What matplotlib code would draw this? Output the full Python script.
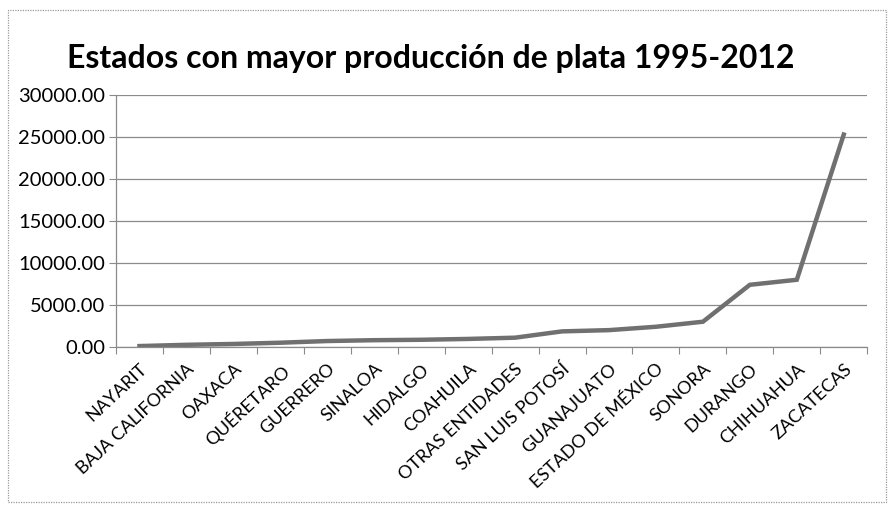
import numpy as np
import matplotlib
matplotlib.use("Agg")
from matplotlib import pyplot as plt
from matplotlib.patches import Rectangle

estados = ['NAYARIT', 'BAJA CALIFORNIA', 'OAXACA', 'QUÉRETARO', 'GUERRERO',
           'SINALOA', 'HIDALGO', 'COAHUILA', 'OTRAS ENTIDADES', 'SAN LUIS POTOSÍ',
           'GUANAJUATO', 'ESTADO DE MÉXICO', 'SONORA', 'DURANGO', 'CHIHUAHUA',
           'ZACATECAS']
produccion = [100, 250, 350, 500, 700, 800, 850, 950, 1100, 1850,
              2000, 2400, 3000, 7400, 8000, 25300]
yticks = [0, 5000, 10000, 15000, 20000, 25000, 30000]

plt.rcParams['font.family'] = ['Lato', 'DejaVu Sans']

fig = plt.figure(figsize=(8.89, 5.17), dpi=100)
ax = fig.add_axes([0.1305, 0.329, 0.845, 0.487])

x = np.arange(len(estados))
ax.plot(x, produccion, color='#707070', lw=3.2, solid_joinstyle='miter')

ax.set_xlim(-0.5, len(estados) - 0.5)
ax.set_ylim(0, 30000)
ax.set_yticks(yticks)
ax.set_yticklabels(['%.2f' % v for v in yticks], fontsize=14.5)
ax.grid(axis='y', color='#8a8a8a', lw=0.9)
ax.set_axisbelow(True)

# category ticks between labels, labels centred under points
ax.set_xticks(np.arange(len(estados) + 1) - 0.5)
ax.set_xticklabels([])
ax.set_xticks(x, minor=True)
ax.set_xticklabels(estados, minor=True, rotation=43, ha='right', va='top',
                   rotation_mode='anchor', fontsize=13)
ax.tick_params(axis='x', which='minor', length=0, pad=10)
ax.tick_params(axis='x', which='major', length=5, color='#8a8a8a')
ax.tick_params(axis='y', length=5, color='#8a8a8a', pad=3)

for s in ['top', 'right']:
    ax.spines[s].set_visible(False)
for s in ['left', 'bottom']:
    ax.spines[s].set_color('#8a8a8a')
    ax.spines[s].set_linewidth(0.9)

fig.text(0.485, 0.887, 'Estados con mayor producción de plata 1995-2012',
         ha='center', va='center', fontsize=23, fontweight='bold')

fig.patches.append(Rectangle((0.009, 0.029), 0.988, 0.952, transform=fig.transFigure,
                             fill=False, ec='#9a9a9a', lw=0.9, ls=(0, (1, 1))))

fig.savefig('out.png', dpi=100)
